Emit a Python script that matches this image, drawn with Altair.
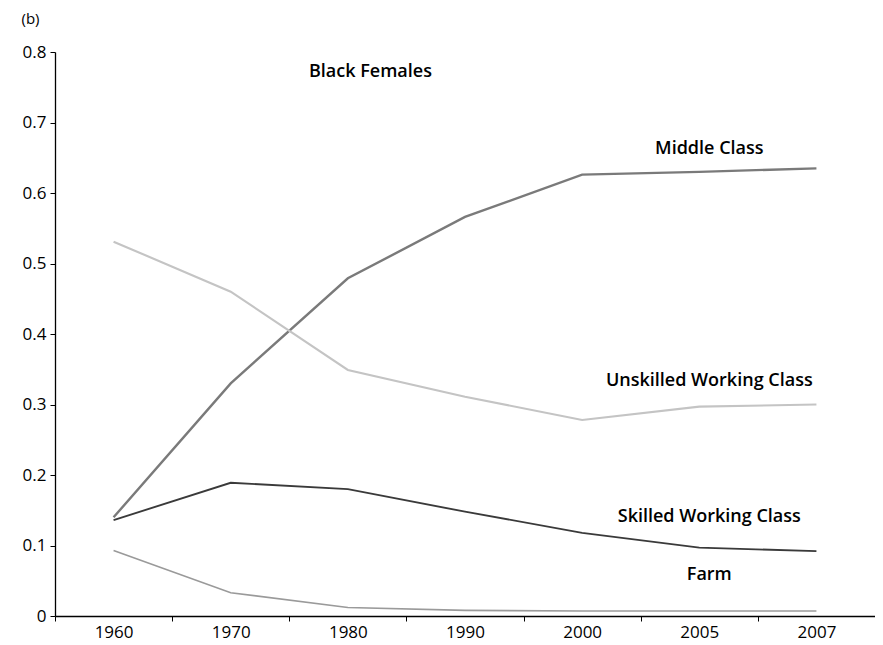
import altair as alt
import pandas as pd

years = ["1960", "1970", "1980", "1990", "2000", "2005", "2007"]
series_names = ["Middle Class", "Unskilled Working Class", "Skilled Working Class", "Farm"]
middle = [0.140, 0.330, 0.479, 0.566, 0.626, 0.630, 0.635]
unskilled = [0.531, 0.460, 0.349, 0.311, 0.278, 0.297, 0.300]
skilled = [0.136, 0.189, 0.180, 0.148, 0.118, 0.097, 0.092]
farm = [0.093, 0.033, 0.012, 0.008, 0.007, 0.007, 0.007]
y_ticks = [0, 0.1, 0.2, 0.3, 0.4, 0.5, 0.6, 0.7, 0.8]
label_years = ["2005", "2005", "2005", "2005"]
label_values = [0.662, 0.333, 0.141, 0.058]
series_colors = ["#7a7a7a", "#c4c4c4", "#3a3a3a", "#9a9a9a"]
series_widths = [2.4, 1.6, 3.0, 2.4]

rows = []
for name, vals in zip(series_names, [middle, unskilled, skilled, farm]):
    for yr, v in zip(years, vals):
        rows.append({"series": name, "year": yr, "share": v})
df = pd.DataFrame(rows)
lab = pd.DataFrame({"label": series_names, "year": label_years, "share": label_values})

FONT = "Open Sans"

x_enc = alt.X(
    "year:O",
    sort=years,
    scale=alt.Scale(type="band", paddingInner=0, paddingOuter=0),
    axis=alt.Axis(
        title=None, labelAngle=0, tickBand="extent", domainColor="black",
        tickColor="black", tickSize=5, labelFontSize=17, labelPadding=3,
        labelColor="black", labelFont=FONT, domainWidth=1.3,
    ),
)
y_enc = alt.Y(
    "share:Q",
    scale=alt.Scale(domain=[0, 0.8], nice=False),
    axis=alt.Axis(
        values=y_ticks, format=".1~f", grid=False, domainColor="black",
        tickColor="black", tickSize=5, labelFontSize=17, labelColor="black",
        labelFont=FONT, labelPadding=4, domainWidth=1.3,
        title="(b)", titleAngle=0, titleX=-25, titleY=-34, titleAlign="center",
        titleBaseline="middle", titleFontWeight="normal", titleFontSize=15,
        titleFont=FONT, titleColor="black",
    ),
)

lines = alt.Chart(df).mark_line().encode(
    x=x_enc,
    y=y_enc,
    color=alt.Color("series:N", scale=alt.Scale(domain=series_names, range=series_colors), legend=None),
    strokeWidth=alt.StrokeWidth("series:N", scale=alt.Scale(domain=series_names, range=series_widths), legend=None),
)

labels = alt.Chart(lab).mark_text(
    font=FONT, fontSize=18, fontWeight=600, align="center", baseline="middle", dx=10, color="black"
).encode(
    x=alt.X("year:O", sort=years),
    y=alt.Y("share:Q"),
    text="label:N",
)

chart = alt.layer(lines, labels).properties(
    width=820,
    height=564,
    padding={"left": 47, "top": 44, "right": 0, "bottom": 29},
    autosize=alt.AutoSizeParams(type="none"),
    title=alt.TitleParams(
        "Black Females", anchor="start", dx=288, dy=70, fontSize=18,
        fontWeight=600, font=FONT, color="black", baseline="top", offset=0,
    ),
).configure_view(stroke=None)

chart.save("out.html", embed_options={"renderer": "svg", "actions": False})
